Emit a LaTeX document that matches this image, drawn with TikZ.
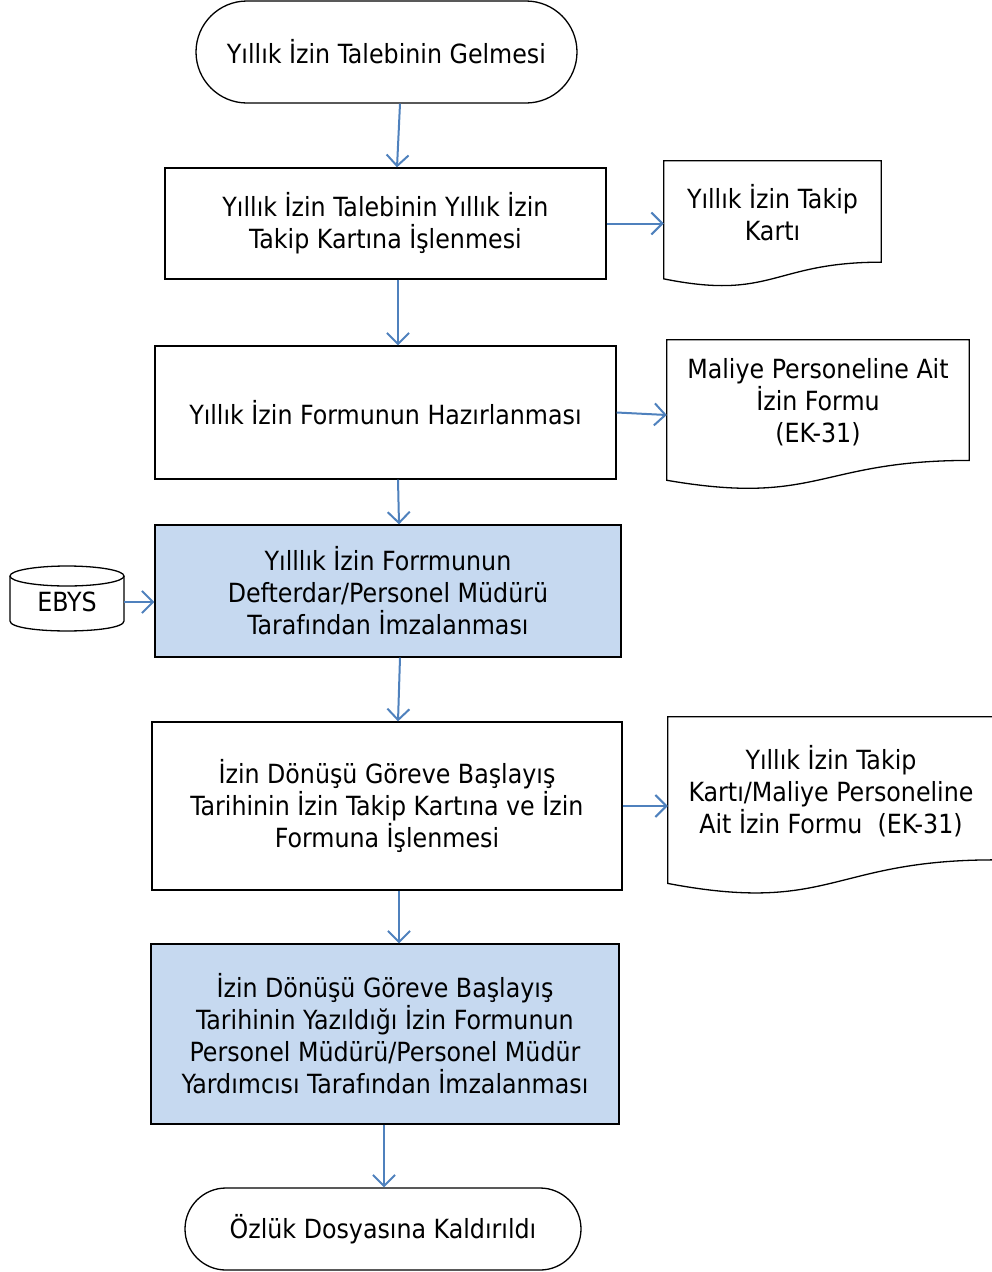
\documentclass[tikz,border=0pt]{standalone}
\usepackage{fontspec}
\setmainfont{DejaVu Sans Condensed}
\usetikzlibrary{arrows.meta,shapes.misc,calc}
\definecolor{arrblue}{RGB}{79,129,189}
\definecolor{boxblue}{RGB}{198,217,240}
\newcommand\docoutline[1]{\draw[docline] (#1.north west) -- (#1.north east) -- ($(#1.north east)!0.802!(#1.south east)$) .. controls ($(#1.north)!0.802!(#1.south)$) and ($(#1.north)!1.1075!(#1.south)$) .. ($(#1.north west)!0.934!(#1.south west)$) -- cycle;}
\tikzset{
  every node/.style={font=\fontsize{26.4}{32}\selectfont, align=center, inner sep=0pt},
  term/.style={draw, line width=1.3pt, rounded rectangle, fill=white},
  procbox/.style={draw, line width=1.3pt, rectangle, fill=white},
  bluebox/.style={procbox, fill=boxblue},
  docnode/.style={rectangle, draw=none},
  docline/.style={line width=1.3pt, fill=white},
  arr/.style={draw=arrblue, line width=2pt, -{Straight Barb[length=11pt,width=22pt]}}
}
\begin{document}
\begin{tikzpicture}[x=1pt,y=-1pt]
\useasboundingbox (0,0) rectangle (991,1272);
% start / end
\node[term, minimum width=381, minimum height=102] (s) at (386.5,52) {Yıllık İzin Talebinin Gelmesi};
\node[term, minimum width=396, minimum height=82] (e) at (383,1229) {Özlük Dosyasına Kaldırıldı};
% process boxes
\node[procbox, minimum width=441, minimum height=111] (b1) at (385.5,223.5) {Yıllık İzin Talebinin Yıllık İzin\\Takip Kartına İşlenmesi};
\node[procbox, minimum width=461, minimum height=133] (b2) at (385.5,412.5) {Yıllık İzin Formunun Hazırlanması};
\node[bluebox, minimum width=466, minimum height=132] (b3) at (388,591) {Yılllık İzin Forrmunun\\Defterdar/Personel Müdürü\\Tarafından İmzalanması};
\node[procbox, minimum width=470, minimum height=168] (b4) at (387,806) {İzin Dönüşü Göreve Başlayış\\Tarihinin İzin Takip Kartına ve İzin\\Formuna İşlenmesi};
\node[bluebox, minimum width=468, minimum height=180] (b5) at (385,1034) {İzin Dönüşü Göreve Başlayış\\Tarihinin Yazıldığı İzin Formunun\\Personel Müdürü/Personel Müdür\\Yardımcısı Tarafından İmzalanması};
% documents
\node[docnode, minimum width=217, minimum height=126] (d1) at (772.5,224) {};
\docoutline{d1}
\node (d1t) at (772.5,213) {Yıllık İzin Takip\\Kartı};
\node[docnode, minimum width=302, minimum height=150] (d2) at (818,415) {};
\docoutline{d2}
\node (d2t) at (818,402) {Maliye Personeline Ait\\İzin Formu\\(EK-31)};
\node[docnode, minimum width=326, minimum height=178] (d3) at (831,806) {};
\docoutline{d3}
\node (d3t) at (831,791) {Yıllık İzin Takip\\Kartı/Maliye Personeline\\Ait İzin Formu~~(EK-31)};
% database
\draw[line width=1.3pt, fill=white] (10,576) -- (10,621) .. controls (10,634.3) and (124,634.3) .. (124,621) -- (124,576);
\draw[line width=1.3pt, fill=white] (67,576) ellipse[x radius=57, y radius=10];
\node[minimum width=114, minimum height=30] (ebys) at (67,602) {EBYS};
% connectors
\draw[arr] ([xshift=13.5pt]s.south) -- ([xshift=11.5pt]b1.north);
\draw[arr] ([xshift=12.5pt]b1.south) -- ([xshift=12.5pt]b2.north);
\draw[arr] ([xshift=12.5pt]b2.south) -- ([xshift=11pt]b3.north);
\draw[arr] ([xshift=12pt]b3.south) -- ([xshift=11pt]b4.north);
\draw[arr] ([xshift=12pt]b4.south) -- ([xshift=14pt]b5.north);
\draw[arr] ([xshift=-1pt]b5.south) -- ([xshift=1pt]e.north);
\draw[arr] (b1.east) -- (b1.east -| d1.west);
\draw[arr] (b2.east) -- (d2.west);
\draw[arr] (b4.east) -- (d3.west);
\draw[arr] (ebys.east) -- (ebys.east -| b3.west);
\end{tikzpicture}
\end{document}
